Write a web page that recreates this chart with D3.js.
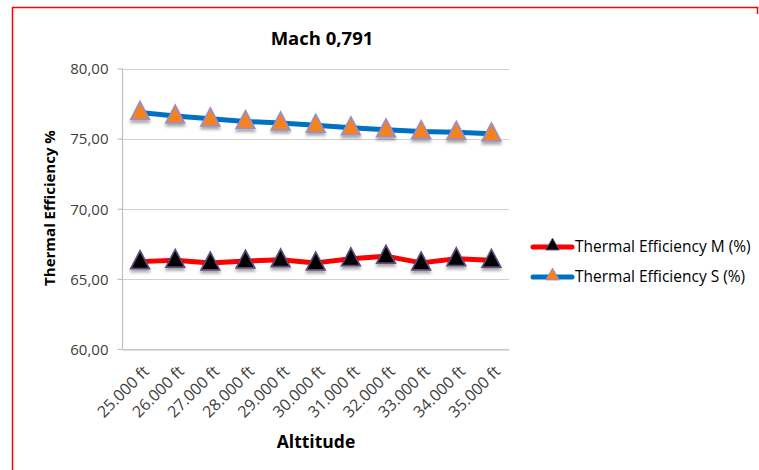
<!DOCTYPE html>
<html><head><meta charset="utf-8">
<script src="https://cdn.jsdelivr.net/npm/d3@7"></script>
<style>body{margin:0;background:#fff}svg{display:block}text{font-family:"Open Sans",sans-serif}</style>
</head><body><svg id="c" width="759" height="470"></svg>
<script>
const categories = ["25.000 ft","26.000 ft","27.000 ft","28.000 ft","29.000 ft","30.000 ft","31.000 ft","32.000 ft","33.000 ft","34.000 ft","35.000 ft"];
const seriesM = [66.23,66.33,66.14,66.27,66.36,66.14,66.44,66.62,66.14,66.44,66.33];
const seriesS = [76.87,76.62,76.41,76.22,76.12,75.96,75.77,75.63,75.51,75.45,75.34];
const yTicks = [60,65,70,75,80];
const seriesNames = ["Thermal Efficiency M (%)","Thermal Efficiency S (%)"];

const svg = d3.select("#c");
const defs = svg.append("defs");
const f = defs.append("filter").attr("id","sh").attr("x","-50%").attr("y","-50%").attr("width","200%").attr("height","200%");
f.append("feDropShadow").attr("dx",0).attr("dy",2.5).attr("stdDeviation",1.6).attr("flood-color","#000").attr("flood-opacity",0.35);

// border
svg.append("path").attr("d","M12.5,470 V7.5 H757.5 V14").attr("fill","none").attr("stroke","#FF0000").attr("stroke-width",1.5);

const x = d3.scaleBand().domain(categories).range([122.5,509]).padding(0);
const y = d3.scaleLinear().domain([60,80]).range([349,68.5]);

// gridlines
svg.append("g").selectAll("line").data(yTicks).join("line")
  .attr("x1",122.5).attr("x2",509).attr("y1",d=>Math.round(y(d))+0.5).attr("y2",d=>Math.round(y(d))+0.5)
  .attr("stroke","#D0D0D0").attr("stroke-width",1.2);

// y axis
const yAxis = svg.append("g").attr("transform","translate(122.5,0)")
  .call(d3.axisLeft(y).tickValues(yTicks).tickSize(5).tickPadding(9).tickFormat(d=>d3.format(".2f")(d).replace(".",",")));
yAxis.select(".domain").attr("stroke","#C0C0C0").attr("stroke-width",1.2).attr("d","M0,68.5V349");
yAxis.selectAll(".tick line").attr("stroke","#C0C0C0").attr("stroke-width",1.2);
yAxis.selectAll(".tick text").attr("fill","#404040").attr("font-size",15).attr("dy","0.35em");

// x axis
const xAxis = svg.append("g").attr("transform","translate(0,349.5)")
  .call(d3.axisBottom(x).tickSize(0).tickPadding(0));
xAxis.select(".domain").attr("stroke","#C0C0C0").attr("stroke-width",1.2);
xAxis.selectAll(".tick text").attr("fill","#404040").attr("font-size",16)
  .attr("text-anchor","end").attr("transform","translate(2,15) rotate(-45)").attr("dy","0.7em").attr("y",0);

const cx = d => x(d) + x.bandwidth()/2;
const tri = d3.symbol().type(d3.symbolTriangle).size(150);

function drawSeries(vals, lineCol, fill, stroke){
  const data = vals.map((v,i)=>({c:categories[i],v}));
  svg.append("path").datum(data).attr("fill","none").attr("stroke",lineCol).attr("stroke-width",5).attr("stroke-linejoin","round")
    .attr("d", d3.line().x(d=>cx(d.c)).y(d=>y(d.v)));
  svg.append("g").selectAll("path").data(data).join("path")
    .attr("d",tri).attr("transform",d=>`translate(${cx(d.c)},${y(d.v)+1}) scale(1,1.1)`)
    .attr("fill",fill).attr("stroke",stroke).attr("stroke-width",1.6).attr("filter","url(#sh)");
}
drawSeries(seriesS,"#0070C0","#F5821F","#9A8CC4");
drawSeries(seriesM,"#FF0000","#000000","#604A7B");

// titles
svg.append("text").attr("x",322).attr("y",45).attr("text-anchor","middle").attr("font-size",18.5).attr("font-weight","bold").attr("fill","#000").text("Mach 0,791");
svg.append("text").attr("transform","translate(55,208) rotate(-90)").attr("text-anchor","middle").attr("font-size",15).attr("font-weight","bold").attr("fill","#000").text("Thermal Efficiency %");
svg.append("text").attr("x",316).attr("y",448).attr("text-anchor","middle").attr("font-size",17.5).attr("font-weight","bold").attr("fill","#000").text("Alttitude");

// legend
const leg = [{n:seriesNames[0],l:"#FF0000",f:"#000",s:"#604A7B",y:247},{n:seriesNames[1],l:"#0070C0",f:"#F5821F",s:"#9A8CC4",y:277}];
const lg = svg.append("g").selectAll("g").data(leg).join("g");
lg.append("line").attr("x1",533).attr("x2",572).attr("y1",d=>d.y).attr("y2",d=>d.y).attr("stroke",d=>d.l).attr("stroke-width",5).attr("stroke-linecap","round");
lg.append("path").attr("d",d3.symbol().type(d3.symbolTriangle).size(80)).attr("transform",d=>`translate(552.5,${d.y-1})`).attr("fill",d=>d.f).attr("stroke",d=>d.s).attr("stroke-width",1);
lg.append("text").attr("x",575).attr("y",d=>d.y).attr("dy","0.35em").attr("font-size",15.5).attr("fill","#000").text(d=>d.n);
</script></body></html>
